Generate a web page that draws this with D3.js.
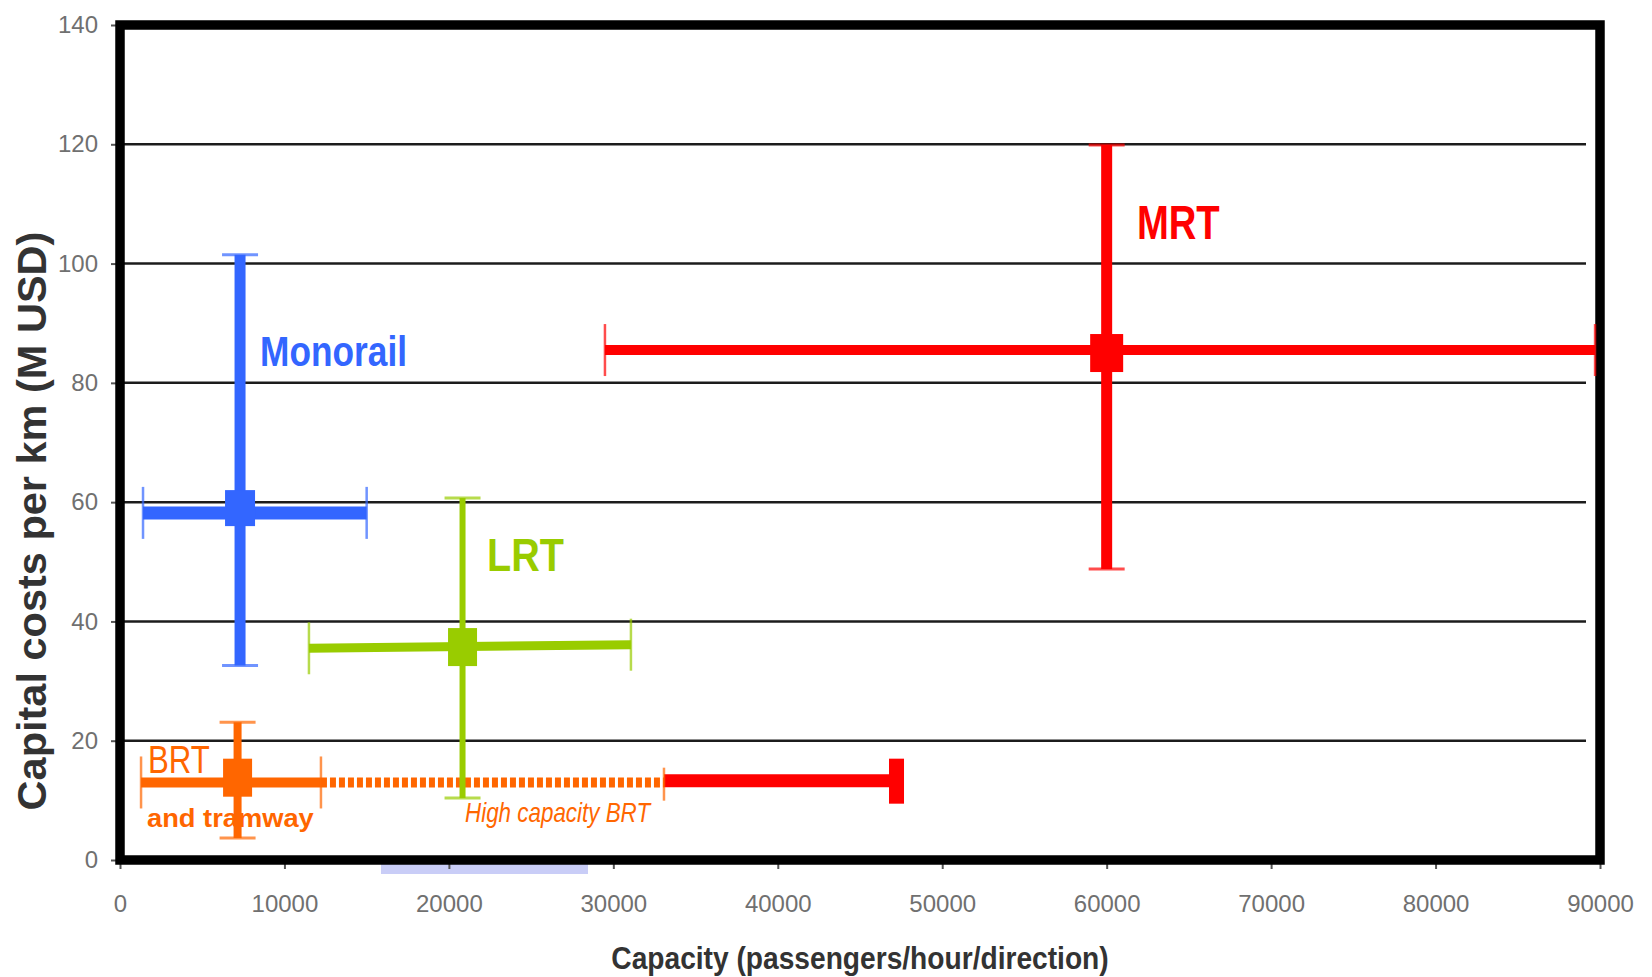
<!DOCTYPE html>
<html lang="en">
  <head>
    <meta charset="utf-8" />
    <title>Capital costs per km vs capacity</title>
    <script src="https://d3js.org/d3.v7.min.js"></script>
    <style>
      body {
        margin: 0;
        background: #fff;
      }
      .axis .domain {
        display: none;
      }
      .axis .tick line {
        stroke: #555;
        stroke-width: 2;
      }
      .axis .tick text {
        font-family: "Liberation Sans", Arial, sans-serif;
        font-size: 24px;
        fill: #707070;
      }
      .grid line {
        stroke: #1c1c1c;
        stroke-width: 2.5;
      }
    </style>
  </head>
  <body>
    <svg width="1652" height="977"></svg>
    <script>
      // axis ticks
      const xTicks = [0, 10000, 20000, 30000, 40000, 50000, 60000, 70000, 80000, 90000];
      const yTicks = [0, 20, 40, 60, 80, 100, 120, 140];

      // one entry per mode: ranges of capacity (pax/h/dir) and capital cost (M USD/km)
      const modes = ["Monorail", "LRT", "MRT", "BRT"];
      const capacityMid = [7300, 20830, 60000, 7150];
      const capacityLow = [1400, 11490, 29490, 1280];
      const capacityHigh = [15000, 31070, 89700, 12220];
      const costMid = [59, 35.7, 85, 13.8];
      const costLow = [32.6, 10.4, 48.8, 3.7];
      const costHigh = [101.5, 60.7, 119.9, 23.1];
      // cost level of the horizontal bar at its left and right end
      const costAtLow = [58.2, 35.5, 85.5, 13.0];
      const costAtHigh = [58.2, 36.1, 85.5, 13.0];

      // high capacity BRT extension
      const hcBrtDotEnd = 33080;
      const hcBrtMax = 47190;
      const hcBrtCostDot = 13.0;
      const hcBrtCost = 13.3;

      // text annotations
      const labelText = ["Monorail", "LRT", "MRT", "BRT", "and tramway", "High capacity BRT"];
      const labelCapacity = [8520, 22320, 61840, 1700, 1640, 20980];
      const labelCost = [82.8, 48.5, 104.2, 14.6, 5.5, 6.4];

      const modeStyle = {
        Monorail: { colour: "#3366ff", vw: 11, hw: 13, sq: [30, 36] },
        LRT: { colour: "#99cc00", vw: 6, hw: 9, sq: [29, 38] },
        MRT: { colour: "#ff0000", vw: 11, hw: 10, sq: [33, 38] },
        BRT: { colour: "#ff6600", vw: 8, hw: 10, sq: [29, 38] },
      };
      const labelStyle = [
        { colour: "#3366ff", size: 43, weight: "bold", sx: 0.82 },
        { colour: "#99cc00", size: 46, weight: "bold", sx: 0.86 },
        { colour: "#ff0000", size: 49, weight: "bold", sx: 0.78 },
        { colour: "#ff6600", size: 39, weight: "normal", sx: 0.8 },
        { colour: "#ff6600", size: 26, weight: "bold", sx: 1.05 },
        { colour: "#ff6600", size: 27, weight: "normal", sx: 0.83, italic: true },
      ];

      const svg = d3.select("svg");
      const font = '"Liberation Sans", Arial, sans-serif';

      const x = d3.scaleLinear().domain([0, 90000]).range([120, 1600]);
      const y = d3.scaleLinear().domain([0, 140]).range([860, 25]);

      // faint selection highlight under the axis (present in the original)
      svg
        .append("rect")
        .attr("x", x(15870))
        .attr("y", y(0))
        .attr("width", x(28460) - x(15870))
        .attr("height", 14)
        .attr("fill", "#c9cdf7");

      // horizontal grid lines
      svg
        .append("g")
        .attr("class", "grid")
        .selectAll("line")
        .data(yTicks.filter((d) => d > 0 && d < 140))
        .join("line")
        .attr("x1", x(0))
        .attr("x2", x.range()[1] - 14)
        .attr("y1", (d) => y(d))
        .attr("y2", (d) => y(d));

      // axes
      svg
        .append("g")
        .attr("class", "axis")
        .attr("transform", `translate(${x(0)},0)`)
        .call(d3.axisLeft(y).tickValues(yTicks).tickSize(9).tickPadding(13));
      svg
        .append("g")
        .attr("class", "axis")
        .attr("transform", `translate(0,${y(0)})`)
        .call(
          d3.axisBottom(x).tickValues(xTicks).tickSize(9).tickPadding(26).tickFormat(d3.format("d"))
        );

      // plot frame
      svg
        .append("rect")
        .attr("x", x(0))
        .attr("y", y(140))
        .attr("width", x(90000) - x(0))
        .attr("height", y(0) - y(140))
        .attr("fill", "none")
        .attr("stroke", "#000")
        .attr("stroke-width", 9.5);

      const data = modes.map((m, i) => ({
        mode: m,
        cx: capacityMid[i],
        cxLo: capacityLow[i],
        cxHi: capacityHigh[i],
        cy: costMid[i],
        cyLo: costLow[i],
        cyHi: costHigh[i],
        hyLo: costAtLow[i],
        hyHi: costAtHigh[i],
        s: modeStyle[m],
      }));

      const marks = svg.append("g");

      // high capacity BRT: dotted orange then solid red
      marks
        .append("line")
        .attr("x1", x(capacityHigh[3]))
        .attr("x2", x(hcBrtDotEnd))
        .attr("y1", y(hcBrtCostDot))
        .attr("y2", y(hcBrtCostDot))
        .attr("stroke", "#ff6600")
        .attr("stroke-width", 10)
        .attr("stroke-dasharray", "6,3");
      marks
        .append("line")
        .attr("x1", x(hcBrtDotEnd))
        .attr("x2", x(hcBrtMax))
        .attr("y1", y(hcBrtCost))
        .attr("y2", y(hcBrtCost))
        .attr("stroke", "#ff0000")
        .attr("stroke-width", 13);
      marks
        .append("line")
        .attr("x1", x(hcBrtDotEnd))
        .attr("x2", x(hcBrtDotEnd))
        .attr("y1", y(hcBrtCost) - 13)
        .attr("y2", y(hcBrtCost) + 20)
        .attr("stroke", "#ff6600")
        .attr("stroke-opacity", 0.7)
        .attr("stroke-width", 2.5);
      marks
        .append("rect")
        .attr("x", x(hcBrtMax) - 7)
        .attr("y", y(hcBrtCost) - 22)
        .attr("width", 15)
        .attr("height", 45)
        .attr("fill", "#ff0000");

      const bars = marks.selectAll(".mode").data(data).join("g").attr("class", "mode");

      // vertical (cost) bar and caps
      bars
        .append("line")
        .attr("x1", (d) => x(d.cx))
        .attr("x2", (d) => x(d.cx))
        .attr("y1", (d) => y(d.cyLo))
        .attr("y2", (d) => y(d.cyHi))
        .attr("stroke", (d) => d.s.colour)
        .attr("stroke-width", (d) => d.s.vw);
      bars
        .selectAll(".vcap")
        .data((d) => [d.cyLo, d.cyHi].map((v) => ({ v, d })))
        .join("line")
        .attr("class", "vcap")
        .attr("x1", (e) => x(e.d.cx) - 18)
        .attr("x2", (e) => x(e.d.cx) + 18)
        .attr("y1", (e) => y(e.v))
        .attr("y2", (e) => y(e.v))
        .attr("stroke", (e) => e.d.s.colour)
        .attr("stroke-opacity", 0.7)
        .attr("stroke-width", 3);

      // horizontal (capacity) bar and caps
      bars
        .append("line")
        .attr("x1", (d) => x(d.cxLo))
        .attr("x2", (d) => x(d.cxHi))
        .attr("y1", (d) => y(d.hyLo))
        .attr("y2", (d) => y(d.hyHi))
        .attr("stroke", (d) => d.s.colour)
        .attr("stroke-width", (d) => d.s.hw);
      bars
        .selectAll(".hcap")
        .data((d) => [
          { v: d.cxLo, c: d.hyLo, d },
          { v: d.cxHi, c: d.hyHi, d },
        ])
        .join("line")
        .attr("class", "hcap")
        .attr("x1", (e) => x(e.v))
        .attr("x2", (e) => x(e.v))
        .attr("y1", (e) => y(e.c) - 26)
        .attr("y2", (e) => y(e.c) + 26)
        .attr("stroke", (e) => e.d.s.colour)
        .attr("stroke-opacity", 0.7)
        .attr("stroke-width", 2.5);

      // centre squares
      bars
        .append("rect")
        .attr("x", (d) => x(d.cx) - d.s.sq[0] / 2)
        .attr("y", (d) => y(d.cy) - d.s.sq[1] / 2)
        .attr("width", (d) => d.s.sq[0])
        .attr("height", (d) => d.s.sq[1])
        .attr("fill", (d) => d.s.colour);

      // labels
      svg
        .append("g")
        .selectAll("text")
        .data(labelText)
        .join("text")
        .attr(
          "transform",
          (d, i) => `translate(${x(labelCapacity[i])},${y(labelCost[i])}) scale(${labelStyle[i].sx},1)`
        )
        .attr("font-family", font)
        .attr("font-size", (d, i) => labelStyle[i].size)
        .attr("font-weight", (d, i) => labelStyle[i].weight)
        .attr("font-style", (d, i) => (labelStyle[i].italic ? "italic" : "normal"))
        .attr("fill", (d, i) => labelStyle[i].colour)
        .text((d) => d);

      // axis titles
      svg
        .append("text")
        .attr("transform", "translate(31,521) rotate(-90)")
        .attr("text-anchor", "middle")
        .attr("dominant-baseline", "central")
        .attr("font-family", font)
        .attr("font-weight", "bold")
        .attr("font-size", 41.5)
        .attr("fill", "#333")
        .text("Capital costs per km (M USD)");
      svg
        .append("text")
        .attr("transform", `translate(${(x(0) + x(90000)) / 2},969) scale(0.88,1)`)
        .attr("text-anchor", "middle")
        .attr("font-family", font)
        .attr("font-weight", "bold")
        .attr("font-size", 32)
        .attr("fill", "#333")
        .text("Capacity (passengers/hour/direction)");
    </script>
  </body>
</html>
